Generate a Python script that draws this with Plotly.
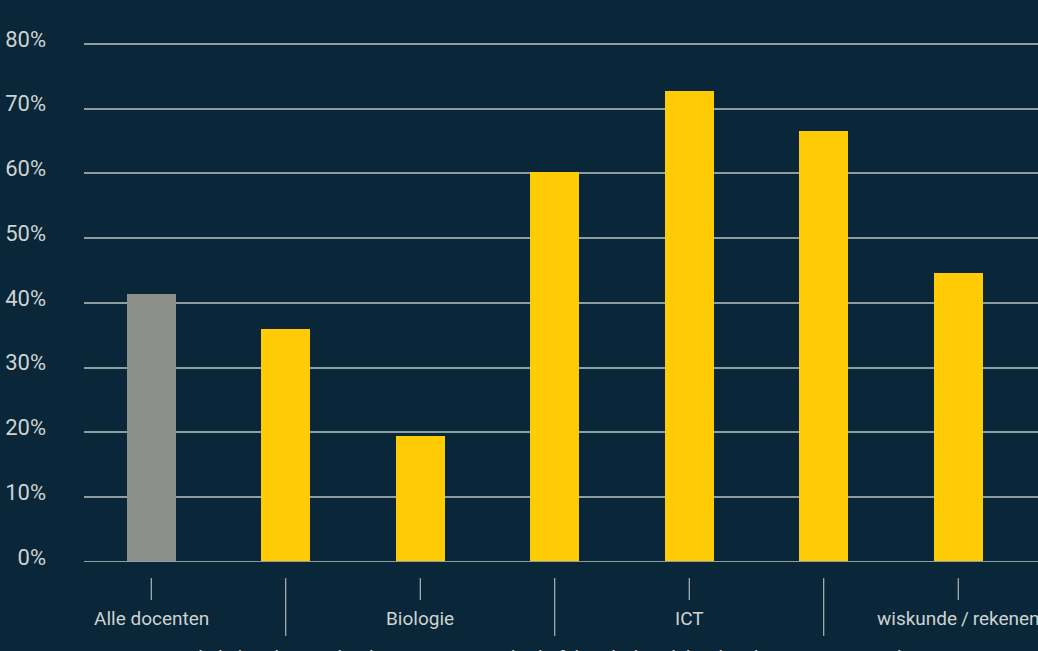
import plotly.graph_objects as go

categories = ["Alle docenten", "Aardrijkskunde/geschiedenis", "Biologie",
              "Economie/bedrijfskunde/handel", "ICT",
              "Techniek/natuurwetenschappen", "wiskunde/rekenen"]
values = [41.4, 36.0, 19.4, 60.3, 72.8, 66.5, 44.6]
bar_colors = ["#8b8f89", "#ffcb05", "#ffcb05", "#ffcb05", "#ffcb05", "#ffcb05", "#ffcb05"]
y_ticks = [0, 10, 20, 30, 40, 50, 60, 70, 80]
y_ticktext = [f"{t}%" for t in y_ticks]

BG = "#0a2639"
TXT = "#cdd3d1"
GRID = "#8e9e9e"
FONT = "Liberation Sans Narrow, Roboto, sans-serif"

x_pos = list(range(len(categories)))
display_labels = [c.replace("/", "\u2009/\u2009") if c == "wiskunde/rekenen" else c for c in categories]

fig = go.Figure()
fig.add_trace(go.Bar(x=x_pos, y=values, marker=dict(color=bar_colors, line=dict(width=0)),
                     width=0.364, hoverinfo="skip"))

shapes = []
annotations = []
for i, lab in enumerate(display_labels):
    if i % 2 == 0:
        shapes.append(dict(type="line", xref="x", yref="paper", x0=i, x1=i,
                           y0=-0.031, y1=-0.073, line=dict(color=TXT, width=1)))
        annotations.append(dict(x=i, y=-0.108, xref="x", yref="paper", text=lab,
                                showarrow=False, xanchor="center", yanchor="middle",
                                font=dict(family=FONT, size=19, color=TXT)))
    else:
        shapes.append(dict(type="line", xref="x", yref="paper", x0=i, x1=i,
                           y0=-0.031, y1=-0.142, line=dict(color=TXT, width=1)))
        annotations.append(dict(x=i, y=-0.157, xref="x", yref="paper", text=lab,
                                showarrow=False, xanchor="center", yanchor="top",
                                font=dict(family=FONT, size=19, color=TXT)))

fig.update_layout(
    width=1038, height=651,
    paper_bgcolor=BG, plot_bgcolor=BG,
    margin=dict(l=84, r=0, t=42, b=89),
    showlegend=False,
    bargap=0,
    xaxis=dict(range=[-0.5, 6.593], showticklabels=False, showgrid=False,
               zeroline=False, showline=False, ticks=""),
    yaxis=dict(range=[0, 80.3], tickvals=y_ticks, ticktext=y_ticktext,
               showgrid=True, gridcolor=GRID, gridwidth=1.5,
               zeroline=False, showline=False, ticks="",
               ticklabelstandoff=37, ticklabelshift=-5,
               tickfont=dict(family=FONT, size=22, color=TXT)),
    shapes=shapes + [dict(type="line", xref="paper", yref="y", x0=0, x1=1, y0=0, y1=0,
                          line=dict(color=GRID, width=2))],
    annotations=annotations,
)

fig.write_html("out.html", config={"displayModeBar": False},
               post_script="document.body.style.margin='0';document.body.style.overflow='hidden';")
